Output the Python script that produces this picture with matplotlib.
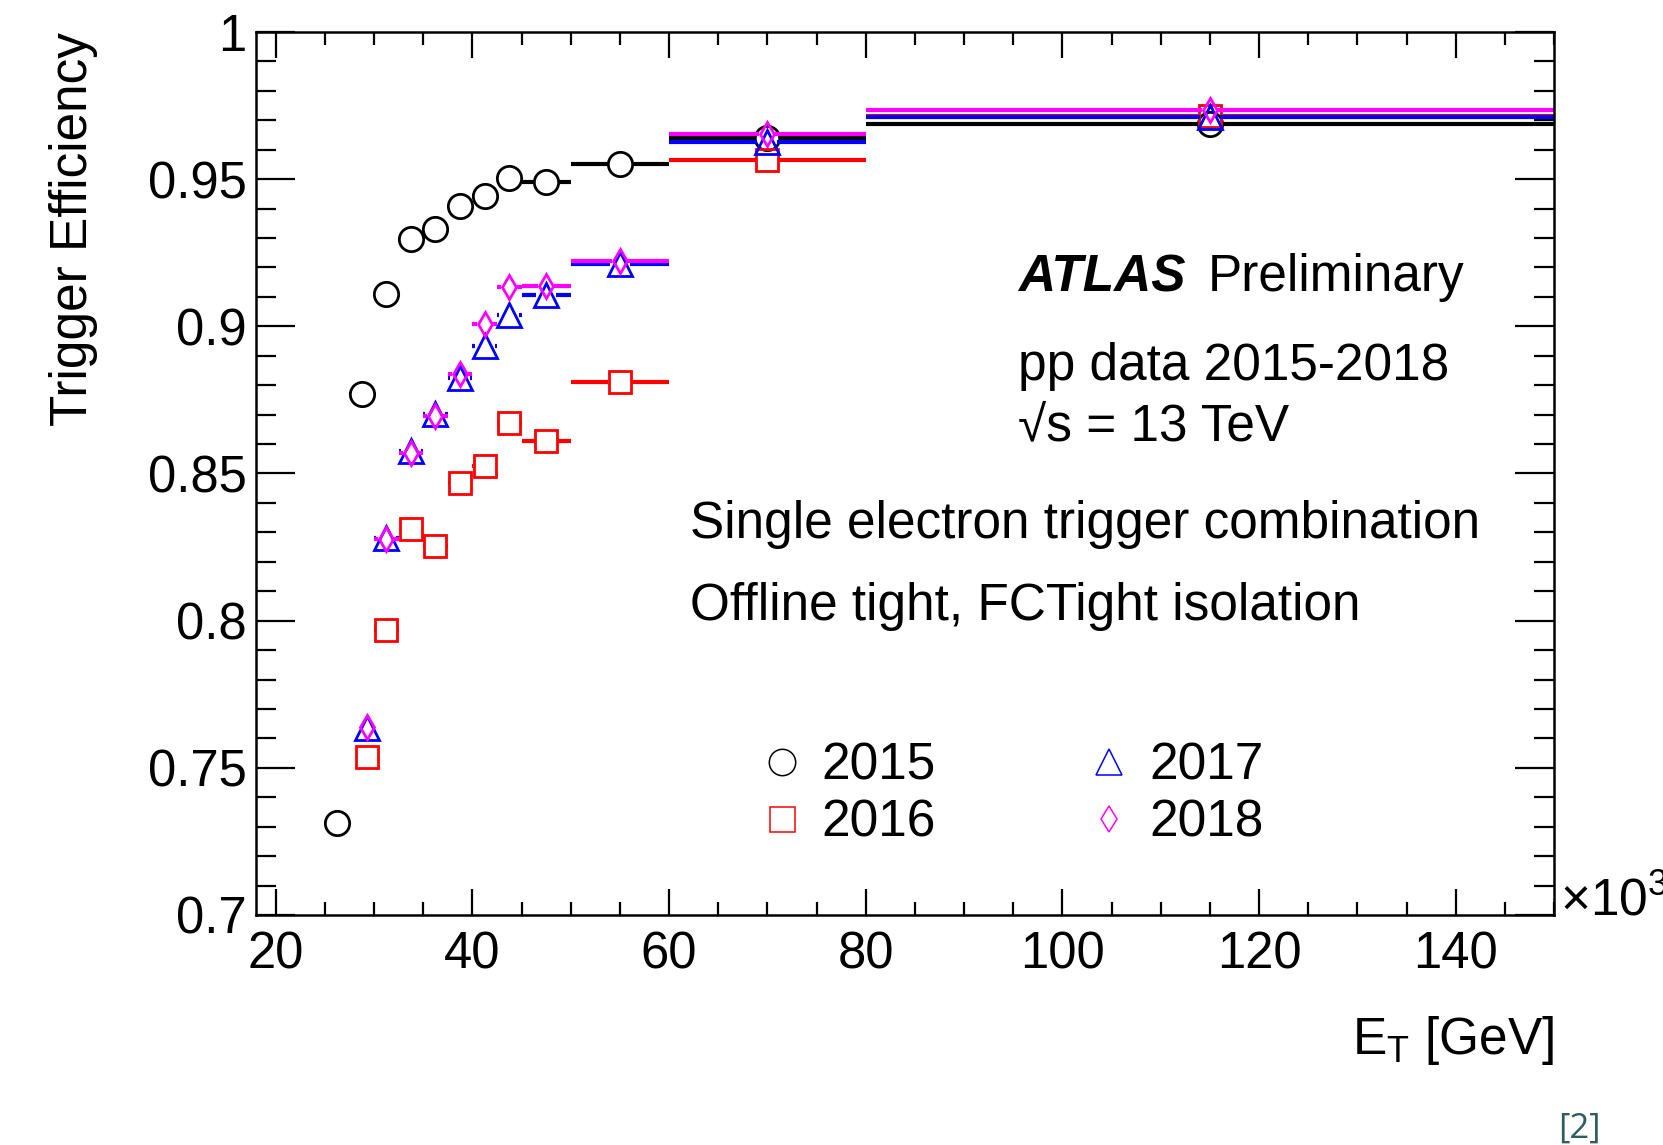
import numpy as np
import matplotlib
matplotlib.use("Agg")
import matplotlib.pyplot as plt
from matplotlib.lines import Line2D
from matplotlib.ticker import MultipleLocator

plt.rcParams['font.family'] = ['Liberation Sans', 'DejaVu Sans']
plt.rcParams['mathtext.fontset'] = 'custom'
plt.rcParams['mathtext.rm'] = 'Liberation Sans'
plt.rcParams['mathtext.it'] = 'Liberation Sans:italic'

# E_T bin edges (axis in units of 10^3 MeV)
edges_2015 = [25, 27.5, 30, 32.5, 35, 37.5, 40, 42.5, 45, 50, 60, 80, 150]
edges_1618 = [28.5, 30, 32.5, 35, 37.5, 40, 42.5, 45, 50, 60, 80, 150]

eff_2015 = [0.7312, 0.877, 0.9109, 0.9297, 0.9331, 0.9410, 0.9443, 0.9504,
            0.9490, 0.9550, 0.9640, 0.9689]
eff_2016 = [0.7538, 0.7968, 0.8312, 0.8253, 0.8467, 0.8525, 0.8671, 0.8609,
            0.8811, 0.9565, 0.9715]
eff_2017 = [0.7637, 0.8281, 0.8575, 0.8703, 0.8824, 0.8932, 0.9037, 0.9105,
            0.9213, 0.9627, 0.9712]
eff_2018 = [0.7639, 0.8278, 0.8569, 0.8697, 0.8839, 0.9008, 0.9132, 0.9136,
            0.9223, 0.9655, 0.9735]

years = ['2015', '2016', '2017', '2018']

W, H = 1663, 1145
fig = plt.figure(figsize=(W / 100, H / 100), dpi=100)
ax = fig.add_axes([256 / W, 1 - 915 / H, (1554 - 256) / W, (915 - 32) / H])


def draw_series(edges, eff, color, marker, ms, gap):
    edges = np.asarray(edges, dtype=float)
    eff = np.asarray(eff, dtype=float)
    lo, hi = edges[:-1], edges[1:]
    mid = 0.5 * (lo + hi)
    # horizontal bin-width bars, cut out where the marker sits
    ax.hlines(eff, lo, np.maximum(lo, mid - gap), color=color, lw=3.0)
    ax.hlines(eff, np.minimum(hi, mid + gap), hi, color=color, lw=3.0)
    ax.plot(mid, eff, ls='none', marker=marker, ms=ms, mfc='none',
            mec=color, mew=2.0)


draw_series(edges_2015, eff_2015, 'black', 'o', 17.5, 1.22)
draw_series(edges_1618, eff_2016, '#ff0000', 's', 16.5, 1.17)
draw_series(edges_1618, eff_2017, '#0000ff', '^', 17.5, 1.02)
draw_series(edges_1618, eff_2018, '#ff00ff', 'd', 12.2, 0.81)

ax.set_xlim(18, 150)
ax.set_ylim(0.7, 1.0)
ax.xaxis.set_major_locator(MultipleLocator(20))
ax.xaxis.set_minor_locator(MultipleLocator(5))
ax.yaxis.set_major_locator(MultipleLocator(0.05))
ax.yaxis.set_minor_locator(MultipleLocator(0.01))
ax.yaxis.set_major_formatter(plt.FuncFormatter(lambda v, p: f'{v:g}'))

for s in ax.spines.values():
    s.set_linewidth(1.8)
ax.tick_params(axis='both', which='both', direction='in', top=True, right=True,
               width=1.6, labelsize=36.5)
ax.tick_params(axis='y', which='major', length=28, pad=6.7)
ax.tick_params(axis='y', which='minor', length=14.4)
ax.tick_params(axis='x', which='major', length=18.7, pad=11)
ax.tick_params(axis='x', which='minor', length=9.4)

fig.text(87 / W, 1 - 32 / H, 'Trigger Efficiency', rotation=90,
         rotation_mode='anchor', ha='right', va='baseline', fontsize=37)
fig.text(1554 / W, 1 - 1054 / H, r'E$_{\mathrm{T}}$ [GeV]', ha='right',
         va='baseline', fontsize=37)
fig.text(1560 / W, 1 - 915 / H, '×10$^{3}$', ha='left', va='baseline',
         fontsize=37)

# labels
fig.text(1018 / W, 1 - 291 / H, 'ATLAS', fontsize=37, weight='bold',
         style='italic', va='baseline')
fig.text(1208 / W, 1 - 291 / H, 'Preliminary', fontsize=37, va='baseline')
fig.text(1018 / W, 1 - 380 / H, 'pp data 2015-2018', fontsize=37,
         va='baseline')
fig.text(1018 / W, 1 - 440 / H, '√s = 13 TeV', fontsize=37, va='baseline')
fig.text(690 / W, 1 - 538 / H, 'Single electron trigger combination',
         fontsize=37, va='baseline')
fig.text(690 / W, 1 - 620 / H, 'Offline tight, FCTight isolation',
         fontsize=37, va='baseline')

handles = [
    Line2D([], [], ls='none', marker='o', ms=19, mfc='none', mec='black', mew=1.1),
    Line2D([], [], ls='none', marker='s', ms=18, mfc='none', mec='#ff0000', mew=1.1),
    Line2D([], [], ls='none', marker='^', ms=18.5, mfc='none', mec='#0000ff', mew=1.1),
    Line2D([], [], ls='none', marker='d', ms=13.5, mfc='none', mec='#ff00ff', mew=1.1),
]
ax.legend(handles, years, ncol=2, loc='upper left',
          bbox_to_anchor=(761 / W, 1 - 742 / H), bbox_transform=fig.transFigure,
          frameon=False, fontsize=37, handlelength=0.8, handletextpad=0.38,
          columnspacing=2.97, labelspacing=0.15, borderpad=0, borderaxespad=0)

fig.text(1558 / W, 1 - 1138 / H, '[2]', color='#2f5d62', fontsize=25,
         family='Open Sans', va='baseline')

fig.savefig('out.png', dpi=100)
